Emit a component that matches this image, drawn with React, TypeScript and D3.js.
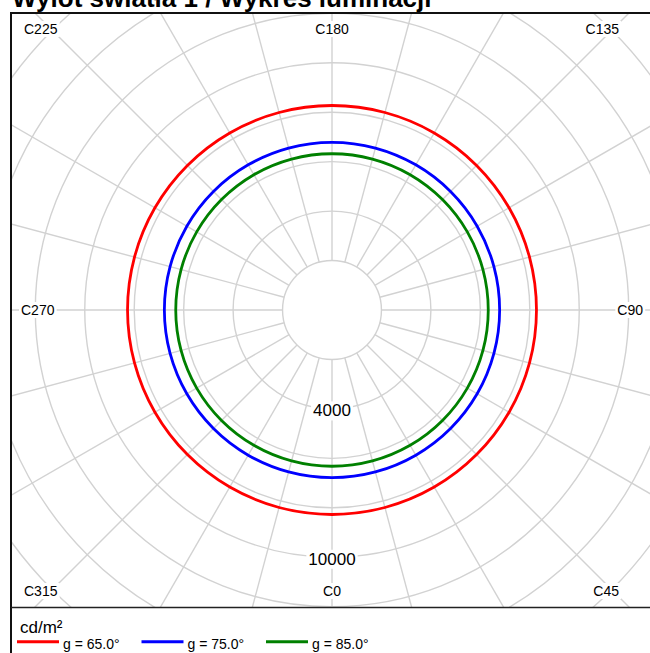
import React, { useEffect, useRef } from 'react';
import * as d3 from 'd3';

// C-plane angles (degrees) the luminance was sampled at
const cAngles = [0, 15, 30, 45, 60, 75, 90, 105, 120, 135, 150, 165, 180, 195, 210, 225, 240, 255, 270, 285, 300, 315, 330, 345];
const seriesNames = ['g = 65.0°', 'g = 75.0°', 'g = 85.0°'];
const seriesColors = ['#ff0000', '#0000ff', '#008000'];
const lum65 = [8270, 8270, 8270, 8270, 8270, 8270, 8270, 8270, 8270, 8270, 8270, 8270, 8270, 8270, 8270, 8270, 8270, 8270, 8270, 8270, 8270, 8270, 8270, 8270];
const lum75 = [6780, 6780, 6780, 6780, 6780, 6780, 6780, 6780, 6780, 6780, 6780, 6780, 6780, 6780, 6780, 6780, 6780, 6780, 6780, 6780, 6780, 6780, 6780, 6780];
const lum85 = [6320, 6320, 6320, 6320, 6320, 6320, 6320, 6320, 6320, 6320, 6320, 6320, 6320, 6320, 6320, 6320, 6320, 6320, 6320, 6320, 6320, 6320, 6320, 6320];
const gridRings = [2000, 4000, 6000, 8000, 10000, 12000, 14000, 16000, 18000, 20000];
const ringLabels = [4000, 10000];
const cLabels = [0, 45, 90, 135, 180, 225, 270, 315];
const unitLabel = 'cd/m²';
const title = 'Wylot światła 1 / Wykres luminacji';

const FONT = 'Arial, "Liberation Sans", sans-serif';

export default function App() {
  const svgRef = useRef<SVGSVGElement>(null);

  useEffect(() => {
    if (!svgRef.current) return;
    const root = d3.select(svgRef.current);
    root.selectAll('*').remove();

    const width = 650, height = 653;
    const frame = { left: 11, top: 13, right: 655, bottom: 700 };
    const plotBottom = 607.5;
    const cx = 332, cy = 310;

    root.attr('width', width).attr('height', height);

    // title (partly above the page)
    root.append('text')
      .attr('x', 12)
      .attr('y', 7)
      .style('font-family', FONT)
      .style('font-size', '26px')
      .style('font-weight', 'bold')
      .text(title);

    const r = d3.scaleLinear().domain([0, 2000]).range([0, 49.45]);

    const defs = root.append('defs');
    defs.append('clipPath')
      .attr('id', 'plotClip')
      .append('rect')
      .attr('x', frame.left + 1)
      .attr('y', frame.top + 1)
      .attr('width', frame.right - frame.left)
      .attr('height', plotBottom - frame.top - 1);

    const plot = root.append('g').attr('clip-path', 'url(#plotClip)');
    const g = plot.append('g').attr('transform', `translate(${cx},${cy})`);

    // C angle -> screen: C0 down, C90 right
    const px = (c: number, v: number) => r(v) * Math.sin((c * Math.PI) / 180);
    const py = (c: number, v: number) => r(v) * Math.cos((c * Math.PI) / 180);

    // rings
    g.selectAll('circle.ring')
      .data(gridRings)
      .enter()
      .append('circle')
      .attr('class', 'ring')
      .attr('r', (d) => r(d))
      .attr('fill', 'none')
      .attr('stroke', '#d2d2d2')
      .attr('stroke-width', 1.4);

    // spokes from first ring outward
    g.selectAll('line.spoke')
      .data(cAngles)
      .enter()
      .append('line')
      .attr('class', 'spoke')
      .attr('x1', (c) => px(c, gridRings[0]))
      .attr('y1', (c) => py(c, gridRings[0]))
      .attr('x2', (c) => px(c, 24000))
      .attr('y2', (c) => py(c, 24000))
      .attr('stroke', '#d2d2d2')
      .attr('stroke-width', 1.4);

    // series
    const series = [lum65, lum75, lum85];
    const radial = d3.lineRadial<number>()
      .angle((_, i) => Math.PI - (cAngles[i] * Math.PI) / 180)
      .radius((d) => r(d))
      .curve(d3.curveCatmullRomClosed);

    g.selectAll('path.series')
      .data(series)
      .enter()
      .append('path')
      .attr('class', 'series')
      .attr('d', (d) => radial(d) as string)
      .attr('fill', 'none')
      .attr('stroke', (_, i) => seriesColors[i])
      .attr('stroke-width', 2.8);

    // labelled text with white box behind it
    const boxedText = (parent: any, x: number, y: number, txt: string, size: number, anchor: string) => {
      const grp = parent.append('g');
      const bg = grp.append('rect').attr('fill', '#fff');
      const t = grp.append('text')
        .attr('x', x)
        .attr('y', y)
        .attr('text-anchor', anchor)
        .attr('dominant-baseline', 'central')
        .style('font-family', FONT)
        .style('font-size', size + 'px')
        .style('fill', '#000')
        .text(txt);
      const bb = (t.node() as SVGTextElement).getBBox();
      bg.attr('x', bb.x - 2).attr('y', bb.y).attr('width', bb.width + 4).attr('height', bb.height);
    };

    // ring value labels along C0
    ringLabels.forEach((v) => {
      boxedText(g, 0, r(v) + 2, String(v), 17, 'middle');
    });

    // C-plane labels near the frame
    cLabels.forEach((c) => {
      const s = Math.round(Math.sin((c * Math.PI) / 180) * 1000) / 1000;
      const co = Math.round(Math.cos((c * Math.PI) / 180) * 1000) / 1000;
      let x = 0, y = 0, anchor = 'middle';
      if (s === 0) {
        y = co > 0 ? 281 : -281;
      } else if (co === 0) {
        x = s > 0 ? 311 : -311;
        anchor = s > 0 ? 'end' : 'start';
      } else {
        y = co > 0 ? 281 : -281;
        x = s > 0 ? 287 : -308;
        anchor = s > 0 ? 'end' : 'start';
      }
      boxedText(plot, cx + x, cy + y, 'C' + c, 14, anchor);
    });

    // frame + separator
    root.append('rect')
      .attr('x', frame.left)
      .attr('y', frame.top)
      .attr('width', frame.right - frame.left)
      .attr('height', frame.bottom - frame.top)
      .attr('fill', 'none')
      .attr('stroke', '#111')
      .attr('stroke-width', 2);
    root.append('line')
      .attr('x1', frame.left)
      .attr('x2', frame.right)
      .attr('y1', plotBottom)
      .attr('y2', plotBottom)
      .attr('stroke', '#222')
      .attr('stroke-width', 1.4);

    // legend
    root.append('text')
      .attr('x', 20)
      .attr('y', 633)
      .style('font-family', FONT)
      .style('font-size', '17px')
      .text(unitLabel);

    const leg = root.append('g')
      .selectAll('g')
      .data(seriesNames)
      .enter()
      .append('g')
      .attr('transform', (_, i) => `translate(${17 + i * 124.5},0)`);
    leg.append('line')
      .attr('x1', 0)
      .attr('x2', 42)
      .attr('y1', 641.7)
      .attr('y2', 641.7)
      .attr('stroke', (_, i) => seriesColors[i])
      .attr('stroke-width', 3);
    leg.append('text')
      .attr('x', 46)
      .attr('y', 648.5)
      .style('font-family', FONT)
      .style('font-size', '14px')
      .text((d) => d);
  }, []);

  return (
    <svg
      ref={svgRef}
      style={{ position: 'absolute', left: 0, top: 0, display: 'block', background: '#fff' }}
    />
  );
}
